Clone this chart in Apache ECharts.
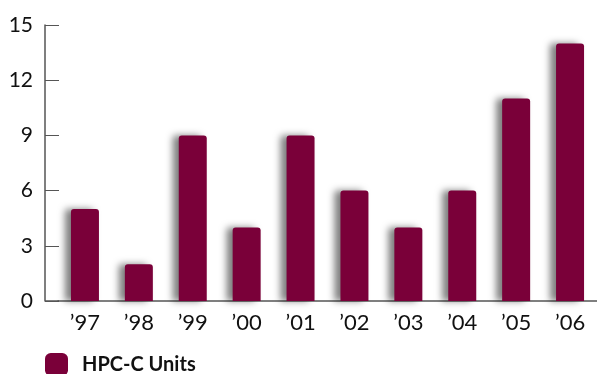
<!DOCTYPE html>
<html>
<head>
<meta charset="utf-8">
<script src="https://cdn.jsdelivr.net/npm/echarts@6/dist/echarts.min.js"></script>
<style>
  html, body { margin: 0; padding: 0; background: #fff; }
  #chart { width: 597px; height: 374px; }
</style>
</head>
<body>
<div id="chart"></div>
<script>
// chart data
var years = ['\u201997', '\u201998', '\u201999', '\u201900', '\u201901', '\u201902', '\u201903', '\u201904', '\u201905', '\u201906'];
var units = [5, 2, 9, 4, 9, 6, 4, 6, 11, 14];
var yTicks = [0, 3, 6, 9, 12, 15];

var chart = echarts.init(document.getElementById('chart'));
var font = 'Lato, "Open Sans", sans-serif';

var option = {
    animation: false,
    grid: { left: 58, right: 0, top: 25, bottom: 73 },
    legend: {
        left: 45, top: 353, padding: 0,
        itemWidth: 23, itemHeight: 23, itemGap: 10,
        icon: 'roundRect',
        textStyle: { fontFamily: font, fontSize: 20, fontWeight: 'bold', color: '#111', padding: [2, 0, 0, 9] },
        data: ['HPC-C Units']
    },
    xAxis: {
        type: 'category',
        data: years,
        axisLine: { lineStyle: { color: '#555', width: 1.5 } },
        axisTick: { inside: true, length: 5, lineStyle: { color: '#555' } },
        axisLabel: { fontFamily: font, fontSize: 22, color: '#111', margin: 11 }
    },
    yAxis: {
        type: 'value',
        min: 0, max: 15, interval: 3,
        offset: 13,
        axisLine: { show: true, lineStyle: { color: '#555', width: 1.5 } },
        axisTick: { show: true, inside: true, length: 14, lineStyle: { color: '#555' } },
        splitLine: { show: false },
        axisLabel: {
            fontFamily: font, fontSize: 21, color: '#111', margin: 12,
            formatter: function (v) { return yTicks.indexOf(v) >= 0 ? String(v) : ''; }
        }
    },
    graphic: [{
        type: 'line',
        shape: { x1: 45, y1: 301, x2: 59, y2: 301 },
        style: { stroke: '#555', lineWidth: 1.5 }
    }],
    series: [{
        name: 'HPC-C Units',
        type: 'bar',
        data: units,
        barWidth: 28,
        itemStyle: {
            color: '#7a0039',
            borderRadius: [3, 3, 0, 0],
            shadowColor: 'rgba(0,0,0,0.5)',
            shadowBlur: 7,
            shadowOffsetX: -6
        }
    }]
};

chart.setOption(option);
</script>
</body>
</html>
